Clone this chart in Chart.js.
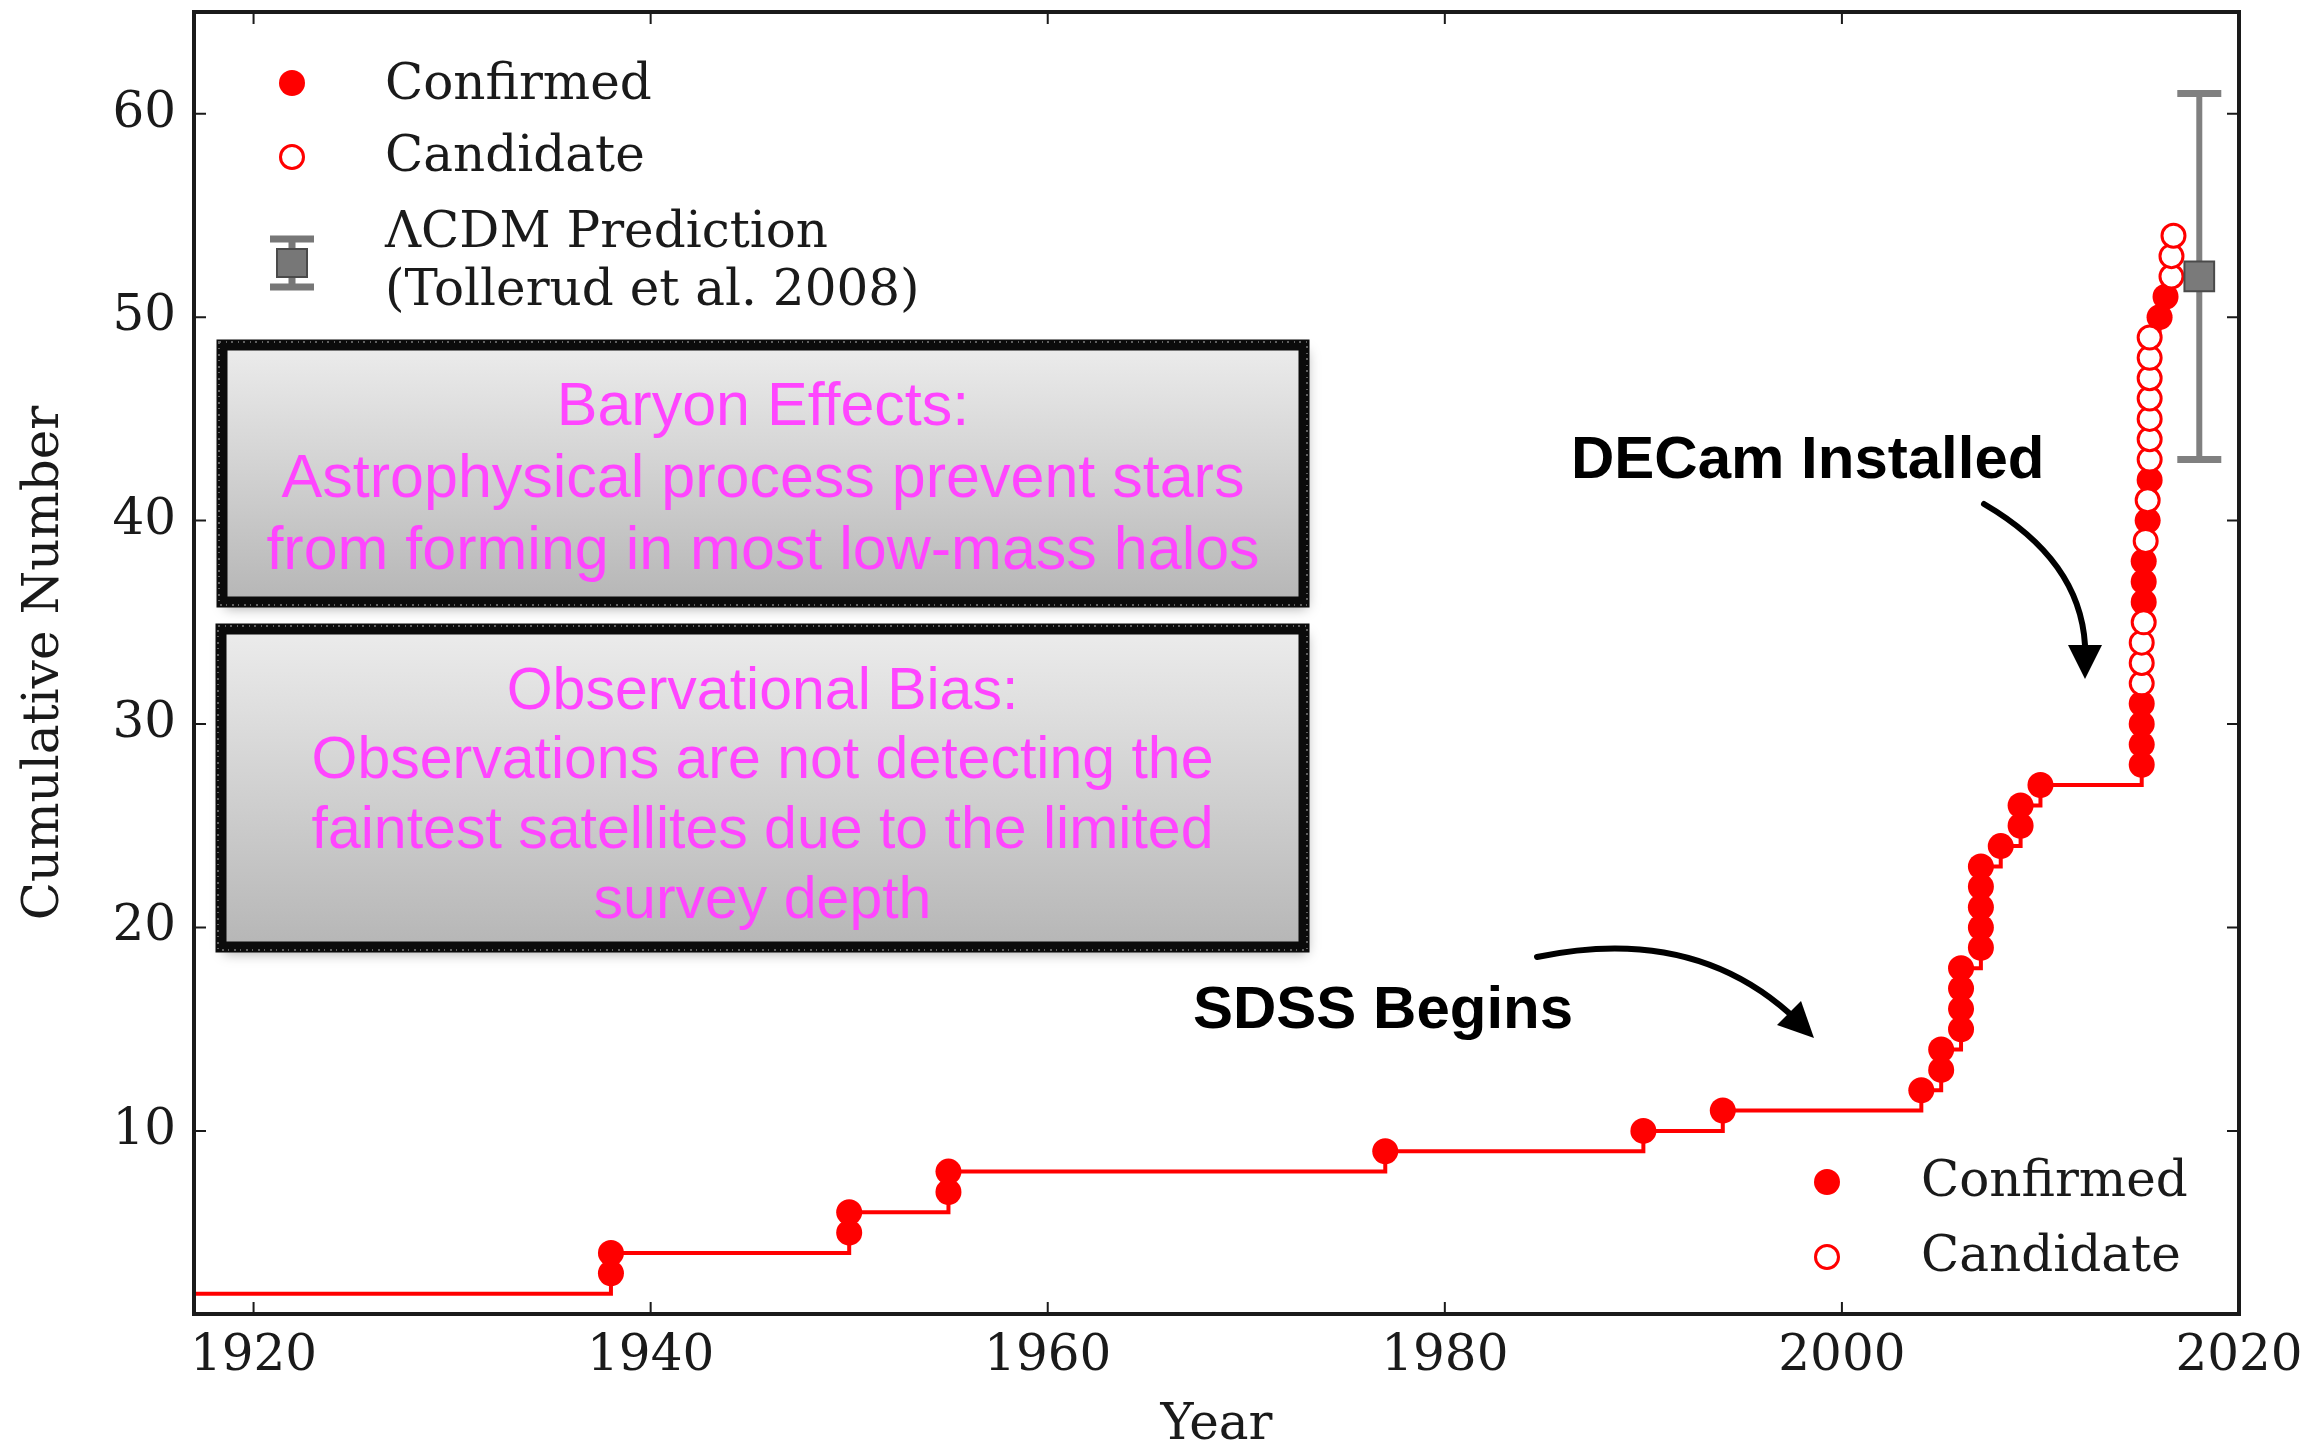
<!DOCTYPE html>
<html>
<head>
<meta charset="utf-8">
<title>Cumulative number of Milky Way satellites</title>
<script src="https://cdn.jsdelivr.net/npm/chart.js@4.4.1/dist/chart.umd.min.js"></script>
<style>
    html, body { margin: 0; padding: 0; background: #ffffff; }
    #contenedor { width: 2320px; height: 1444px; }
</style>
</head>
<body>
<div id="contenedor"><canvas id="grafica" width="2320" height="1444"></canvas></div>
<script>
// discovery year, cumulative number and status of each satellite (first two are LMC/SMC, off the left edge)
const anio_descubrimiento = [1900, 1900, 1938, 1938, 1950, 1950, 1955, 1955, 1977, 1990, 1994,
    2004, 2005, 2005, 2006, 2006, 2006, 2006, 2007, 2007, 2007, 2007, 2007, 2008, 2009, 2009, 2010,
    2015.1, 2015.1, 2015.1, 2015.1, 2015.1, 2015.1, 2015.1, 2015.2, 2015.2, 2015.2, 2015.2,
    2015.3, 2015.4, 2015.4, 2015.5, 2015.5, 2015.5, 2015.5, 2015.5, 2015.5, 2015.5, 2015.5,
    2016.0, 2016.3, 2016.6, 2016.6, 2016.7];
const conteo_acumulado = [1, 2, 3, 4, 5, 6, 7, 8, 9, 10, 11,
    12, 13, 14, 15, 16, 17, 18, 19, 20, 21, 22, 23, 24, 25, 26, 27,
    28, 29, 30, 31, 32, 33, 34, 35, 36, 37, 38,
    39, 40, 41, 42, 43, 44, 45, 46, 47, 48, 49,
    50, 51, 52, 53, 54];
const estado = ['conf', 'conf', 'conf', 'conf', 'conf', 'conf', 'conf', 'conf', 'conf', 'conf', 'conf',
    'conf', 'conf', 'conf', 'conf', 'conf', 'conf', 'conf', 'conf', 'conf', 'conf', 'conf', 'conf', 'conf', 'conf', 'conf', 'conf',
    'conf', 'conf', 'conf', 'conf', 'cand', 'cand', 'cand', 'cand', 'conf', 'conf', 'conf',
    'cand', 'conf', 'cand', 'conf', 'cand', 'cand', 'cand', 'cand', 'cand', 'cand', 'cand',
    'conf', 'conf', 'cand', 'cand', 'cand'];

// LCDM prediction (Tollerud et al. 2008)
const prediccion_anio = [2018];
const prediccion_valor = [52];
const prediccion_min = [43];
const prediccion_max = [61];

const ticks_x = [1920, 1940, 1960, 1980, 2000, 2020];
const ticks_y = [10, 20, 30, 40, 50, 60];

const caja_1 = ['Baryon Effects:', 'Astrophysical process prevent stars', 'from forming in most low-mass halos'];
const caja_2 = ['Observational Bias:', 'Observations are not detecting the', 'faintest satellites due to the limited', 'survey depth'];

const ROJO = '#ff0000';
const GRIS = '#808080';
const MAGENTA = '#ff45ff';
const NEGRO = '#1a1a1a';
const SERIF = '"DejaVu Serif", serif';
const SANS = '"Liberation Sans", Arial, sans-serif';

document.addEventListener("DOMContentLoaded", function(event) {
    build_chart_satelites(document.getElementById("grafica"));
});

const puntos_de = (tipo) => {
    const salida = [];
    anio_descubrimiento.forEach((a, i) => {
        if (tipo === null || estado[i] === tipo) salida.push({ x: a, y: conteo_acumulado[i] });
    });
    return salida;
}

const dibujar_punto = (ctx, x, y, r, relleno) => {
    ctx.beginPath();
    ctx.arc(x, y, r, 0, Math.PI * 2);
    if (relleno) {
        ctx.fillStyle = ROJO;
        ctx.fill();
    } else {
        ctx.fillStyle = '#ffffff';
        ctx.fill();
        ctx.lineWidth = 3;
        ctx.strokeStyle = ROJO;
        ctx.stroke();
    }
}

const dibujar_caja = (ctx, x0, y0, x1, y1, lineas, tam, bases) => {
    ctx.save();
    ctx.shadowColor = 'rgba(0,0,0,0.35)';
    ctx.shadowBlur = 12;
    ctx.shadowOffsetX = 3;
    ctx.shadowOffsetY = 6;
    const g = ctx.createLinearGradient(0, y0, 0, y1);
    g.addColorStop(0, '#ececec');
    g.addColorStop(1, '#b6b6b6');
    ctx.fillStyle = g;
    ctx.fillRect(x0, y0, x1 - x0, y1 - y0);
    ctx.shadowColor = 'transparent';
    ctx.lineWidth = 11;
    ctx.strokeStyle = '#0b0b0b';
    ctx.strokeRect(x0, y0, x1 - x0, y1 - y0);
    // rough chalk-like edge
    ctx.setLineDash([2, 5, 1, 4]);
    ctx.lineWidth = 2;
    ctx.strokeStyle = 'rgba(255,255,255,0.35)';
    ctx.strokeRect(x0 - 3, y0 - 3, x1 - x0 + 6, y1 - y0 + 6);
    ctx.setLineDash([]);
    ctx.fillStyle = MAGENTA;
    ctx.font = tam + 'px ' + SANS;
    ctx.textAlign = 'center';
    ctx.textBaseline = 'alphabetic';
    lineas.forEach((t, i) => ctx.fillText(t, (x0 + x1) / 2, bases[i]));
    ctx.restore();
}

const dibujar_flecha = (ctx, x0, y0, cx, cy, x1, y1, px, py, medio) => {
    ctx.save();
    ctx.strokeStyle = '#000';
    ctx.fillStyle = '#000';
    ctx.lineWidth = 6;
    ctx.lineCap = 'round';
    ctx.beginPath();
    ctx.moveTo(x0, y0);
    ctx.quadraticCurveTo(cx, cy, x1, y1);
    ctx.stroke();
    const ang = Math.atan2(py - y1, px - x1);
    ctx.beginPath();
    ctx.moveTo(px, py);
    ctx.lineTo(x1 + Math.sin(ang) * medio, y1 - Math.cos(ang) * medio);
    ctx.lineTo(x1 - Math.sin(ang) * medio, y1 + Math.cos(ang) * medio);
    ctx.closePath();
    ctx.fill();
    ctx.restore();
}

const marco_plugin = {
    id: 'marco',
    afterDatasetsDraw(chart) {
        const { ctx, chartArea: a, scales: { x, y } } = chart;
        ctx.save();
        ctx.strokeStyle = NEGRO;
        ctx.lineWidth = 2;
        ctx.beginPath();
        x.ticks.forEach(t => {
            const p = x.getPixelForValue(t.value);
            ctx.moveTo(p, a.bottom); ctx.lineTo(p, a.bottom - 12);
            ctx.moveTo(p, a.top); ctx.lineTo(p, a.top + 12);
        });
        y.ticks.forEach(t => {
            const p = y.getPixelForValue(t.value);
            ctx.moveTo(a.left, p); ctx.lineTo(a.left + 12, p);
            ctx.moveTo(a.right, p); ctx.lineTo(a.right - 12, p);
        });
        ctx.stroke();
        ctx.lineWidth = 4;
        ctx.strokeRect(a.left, a.top, a.right - a.left, a.bottom - a.top);
        ctx.restore();
    }
};

const anotaciones_plugin = {
    id: 'anotaciones',
    afterDraw(chart) {
        const ctx = chart.ctx;
        // boxes
        dibujar_caja(ctx, 222, 345, 1304, 602, caja_1, 61, [425, 497, 569]);
        dibujar_caja(ctx, 221, 629, 1304, 947, caja_2, 59, [709, 778, 848, 918]);

        // labels + arrows
        ctx.save();
        ctx.fillStyle = '#000';
        ctx.font = 'bold 60px ' + SANS;
        ctx.textAlign = 'left';
        ctx.textBaseline = 'alphabetic';
        ctx.fillText('DECam Installed', 1571, 478);
        ctx.fillText('SDSS Begins', 1193, 1028);
        ctx.restore();
        dibujar_flecha(ctx, 1984, 504, 2080, 560, 2085, 645, 2085, 679, 17);
        dibujar_flecha(ctx, 1537, 957, 1690, 925, 1789, 1013, 1814, 1038, 17);

        // upper legend
        ctx.save();
        dibujar_punto(ctx, 292, 83, 13, true);
        dibujar_punto(ctx, 292, 157, 11.5, false);
        ctx.fillStyle = '#777777';
        ctx.strokeStyle = '#777777';
        ctx.lineWidth = 7;
        ctx.beginPath();
        ctx.moveTo(270, 239); ctx.lineTo(314, 239);
        ctx.moveTo(270, 287); ctx.lineTo(314, 287);
        ctx.moveTo(292, 239); ctx.lineTo(292, 287);
        ctx.stroke();
        ctx.fillRect(277, 249, 30, 28);
        ctx.lineWidth = 2;
        ctx.strokeStyle = '#4a4a4a';
        ctx.strokeRect(277, 249, 30, 28);
        ctx.fillStyle = NEGRO;
        ctx.font = '50px ' + SERIF;
        ctx.textAlign = 'left';
        ctx.textBaseline = 'alphabetic';
        ctx.fillText('Confirmed', 385, 99);
        ctx.fillText('Candidate', 385, 171);
        ctx.fillText('\u039BCDM Prediction', 385, 247);
        ctx.fillText('(Tollerud et al. 2008)', 385, 305);

        // lower legend
        dibujar_punto(ctx, 1827, 1182, 13, true);
        dibujar_punto(ctx, 1827, 1257, 11.5, false);
        ctx.fillStyle = NEGRO;
        ctx.fillText('Confirmed', 1921, 1196);
        ctx.fillText('Candidate', 1921, 1271);
        ctx.restore();
    }
};

const build_chart_satelites = (id_canvas) => {
    try {
        new Chart(id_canvas, {
            type: 'scatter',
            plugins: [marco_plugin, anotaciones_plugin],
            data: {
                datasets: [
                    {
                        type: 'line',
                        label: 'steps',
                        data: puntos_de(null),
                        stepped: 'before',
                        borderColor: ROJO,
                        borderWidth: 4,
                        pointRadius: 0,
                        fill: false,
                        order: 4
                    },
                    {
                        label: 'Confirmed',
                        data: puntos_de('conf'),
                        backgroundColor: ROJO,
                        borderColor: ROJO,
                        borderWidth: 0,
                        pointRadius: 13,
                        order: 2
                    },
                    {
                        label: 'Candidate',
                        data: puntos_de('cand'),
                        backgroundColor: '#ffffff',
                        borderColor: ROJO,
                        borderWidth: 3,
                        pointRadius: 11.5,
                        order: 1
                    },
                    {
                        type: 'line',
                        label: 'error',
                        data: [{ x: prediccion_anio[0], y: prediccion_min[0] }, { x: prediccion_anio[0], y: prediccion_max[0] }],
                        borderColor: GRIS,
                        borderWidth: 6,
                        pointStyle: 'line',
                        pointRadius: 22,
                        pointBorderWidth: 7,
                        pointBorderColor: GRIS,
                        order: 0
                    },
                    {
                        label: '\u039BCDM Prediction',
                        data: prediccion_anio.map((a, i) => ({ x: a, y: prediccion_valor[i] })),
                        pointStyle: 'rect',
                        pointRadius: 21,
                        backgroundColor: '#7a7a7a',
                        borderColor: '#4a4a4a',
                        borderWidth: 2,
                        order: -1
                    }
                ]
            },
            options: {
                responsive: false,
                animation: false,
                events: [],
                layout: { autoPadding: false, padding: { top: 12, right: 81, left: 0, bottom: 0 } },
                plugins: {
                    legend: { display: false },
                    tooltip: { enabled: false }
                },
                scales: {
                    x: {
                        type: 'linear',
                        min: 1917,
                        max: 2020,
                        afterBuildTicks: (eje) => { eje.ticks = ticks_x.map(v => ({ value: v })); },
                        afterFit: (eje) => { eje.height = 130; },
                        grid: { display: false, drawTicks: false },
                        border: { display: false },
                        ticks: {
                            autoSkip: false,
                            maxRotation: 0,
                            padding: 13,
                            color: NEGRO,
                            font: { family: SERIF, size: 50 },
                            callback: (v) => String(v)
                        },
                        title: {
                            display: true,
                            text: 'Year',
                            color: NEGRO,
                            font: { family: SERIF, size: 50, lineHeight: 0.72 },
                            padding: { top: 0, bottom: 0 }
                        }
                    },
                    y: {
                        type: 'linear',
                        min: 1,
                        max: 65,
                        afterBuildTicks: (eje) => { eje.ticks = ticks_y.map(v => ({ value: v })); },
                        afterFit: (eje) => { eje.width = 194; eje.paddingTop = 0; eje.paddingBottom = 0; },
                        grid: { display: false, drawTicks: false },
                        border: { display: false },
                        ticks: {
                            padding: 18,
                            color: NEGRO,
                            font: { family: SERIF, size: 50 },
                            callback: (v) => String(v)
                        },
                        title: {
                            display: true,
                            text: 'Cumulative Number',
                            color: NEGRO,
                            font: { family: SERIF, size: 50, lineHeight: 1 },
                            padding: { top: 20, bottom: 0 }
                        }
                    }
                }
            }
        });
    } catch (e) {
        console.error("Ocurrio un error", e);
    }
}
</script>
</body>
</html>
